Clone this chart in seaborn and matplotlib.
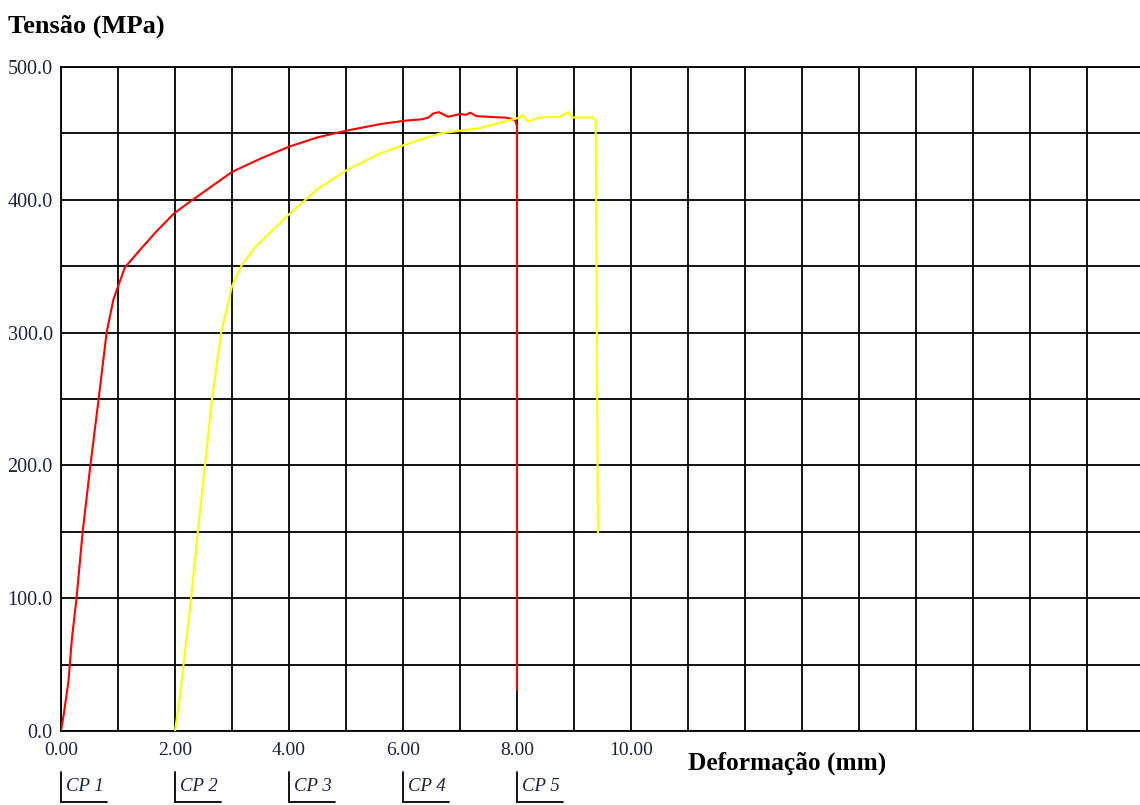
import numpy as np
import pandas as pd
import matplotlib
matplotlib.use("Agg")
import matplotlib.pyplot as plt
import seaborn as sns
from matplotlib.transforms import blended_transform_factory

sns.set_theme(style="white")
plt.rcParams["font.family"] = ["Liberation Serif", "DejaVu Serif"]

# CP 1 (red) stress-strain curve
cp1_x = [0.0, 0.05, 0.13, 0.19, 0.27, 0.38, 0.51, 0.66, 0.80, 0.92, 1.02, 1.12,
         1.38, 1.67, 1.99, 2.31, 3.0, 3.5, 4.0, 4.5, 5.0, 5.6, 6.04, 6.33, 6.45,
         6.53, 6.63, 6.72, 6.79, 7.0, 7.1, 7.18, 7.29, 7.5, 7.82, 7.97, 8.0, 8.0]
cp1_y = [0, 13, 37, 69, 99, 150, 198, 250, 300, 325, 337, 349,
         362, 376, 390, 400, 421, 431, 440, 447, 452, 457, 459.6, 460.6, 462,
         465, 466, 464, 462.5, 464.6, 464, 465.6, 463, 462.5, 461.8, 460, 455, 31]

# CP 2 (yellow) stress-strain curve
cp2_x = [2.0, 2.08, 2.20, 2.28, 2.40, 2.52, 2.65, 2.81, 3.0, 3.16, 3.42, 3.71,
         4.0, 4.5, 5.0, 5.6, 6.0, 6.65, 7.0, 7.35, 7.88, 8.05, 8.1, 8.19, 8.4,
         8.75, 8.9, 8.98, 9.33, 9.38, 9.42]
cp2_y = [0, 24, 69, 99, 150, 198, 250, 300, 335, 350, 365, 377,
         389, 408, 422, 435, 441, 450, 452, 454, 460, 462, 464, 458.8, 462,
         462.5, 466, 462, 462, 460, 149]

curves = [(cp1_x, cp1_y, "#ff0000"), (cp2_x, cp2_y, "#ffff00")]

x_grid = list(range(0, 19))
x_labelled = [0, 2, 4, 6, 8, 10]
y_grid = list(range(0, 501, 50))
y_labelled = [0, 100, 200, 300, 400, 500]

cp_labels = ["CP 1", "CP 2", "CP 3", "CP 4", "CP 5"]
cp_pos = [0, 2, 4, 6, 8]

TICK_COLOR = "#1c2340"

fig = plt.figure(figsize=(11.4, 8.05), dpi=100)
ax = fig.add_axes([61 / 1140, 1 - 731 / 805, 1 - 61 / 1140, (731 - 67) / 805])

for xs, ys, col in curves:
    df = pd.DataFrame({"x": xs, "y": ys})
    sns.lineplot(data=df, x="x", y="y", sort=False, estimator=None,
                 color=col, linewidth=1.5, ax=ax, zorder=3)

ax.set_xlim(0, (1140 - 61) / 57)
ax.set_ylim(0, 500)
ax.set_xticks(x_grid)
ax.set_xticklabels([f"{v:.2f}" if v in x_labelled else "" for v in x_grid])
ax.set_yticks(y_grid)
ax.set_yticklabels([f"{v:.1f}" if v in y_labelled else "" for v in y_grid])
ax.tick_params(axis="x", length=0, pad=8, labelsize=14, labelcolor=TICK_COLOR)
ax.tick_params(axis="y", length=0, pad=6, labelsize=14.5, labelcolor=TICK_COLOR)
ax.grid(True, color="black", linewidth=1.3)
ax.set_axisbelow(True)
ax.set_xlabel("")
ax.set_ylabel("")
for side in ["left", "top", "bottom"]:
    ax.spines[side].set_color("black")
    ax.spines[side].set_linewidth(1.3)
ax.spines["right"].set_visible(False)

fig.text(8 / 1140, 1 - 26 / 805, "Tensão (MPa)", ha="left", va="center",
         fontsize=19, fontweight="bold", color="black")
fig.text(688 / 1140, 1 - 763 / 805, "Deformação (mm)", ha="left", va="center",
         fontsize=18.3, fontweight="bold", color="black")

# CP markers under the axis
tr = blended_transform_factory(ax.transData, ax.transAxes)
for lab, pos in zip(cp_labels, cp_pos):
    ax.text(pos + 0.08, -0.083, lab, transform=tr, ha="left", va="center",
            fontsize=13.5, fontstyle="italic", color=TICK_COLOR)
    ax.plot([pos, pos], [-0.0617, -0.107], transform=tr, color="black",
            linewidth=1.3, clip_on=False)
    ax.plot([pos, pos + 0.8], [-0.107, -0.107], transform=tr, color="black",
            linewidth=1.3, clip_on=False)

fig.savefig("out.png", dpi=100)
